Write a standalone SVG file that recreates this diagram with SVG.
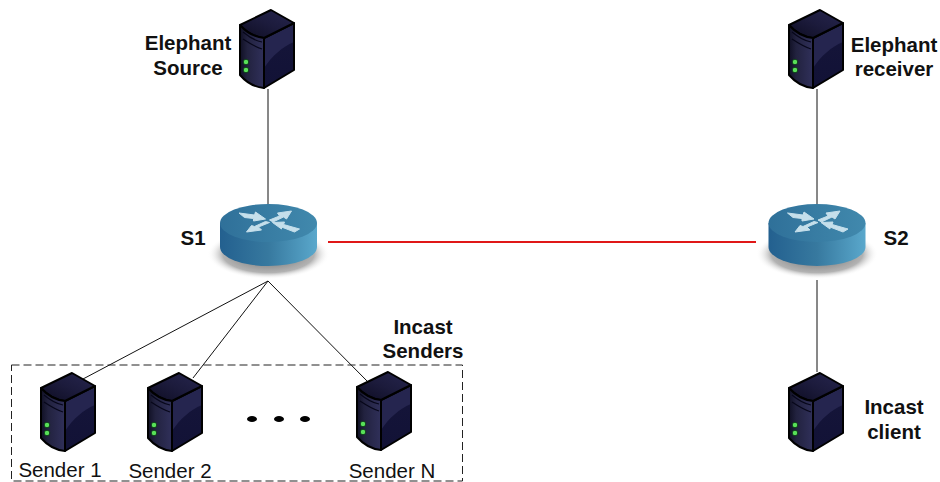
<svg xmlns="http://www.w3.org/2000/svg" width="940" height="482" viewBox="0 0 940 482">
<style>
text{font-family:"Liberation Sans",Arial,sans-serif;fill:#111}
.b{font-size:20.500px;font-weight:bold;text-anchor:middle}
.r{font-size:20.500px;text-anchor:middle}
.l{stroke:#111;stroke-width:1;fill:none}
.o{stroke:#000;stroke-width:2;stroke-linejoin:round}
</style>
<defs>
<linearGradient id="top" x1="0" y1="1" x2="1" y2="0"><stop offset="0" stop-color="#0e0d22"/><stop offset=".5" stop-color="#1c1b3c"/><stop offset="1" stop-color="#26254e"/></linearGradient>
<linearGradient id="front" x1="0" y1="0" x2="1" y2="0"><stop offset="0" stop-color="#101024"/><stop offset=".3" stop-color="#22223f"/><stop offset="1" stop-color="#30305a"/></linearGradient>
<linearGradient id="side" x1="0" y1="0" x2="0" y2="1"><stop offset="0" stop-color="#15153a"/><stop offset="1" stop-color="#121236"/></linearGradient>
<linearGradient id="body" x1="0" y1="0" x2="1" y2="0"><stop offset="0" stop-color="#23608f"/><stop offset=".5" stop-color="#37799f"/><stop offset="1" stop-color="#5aa8cc"/></linearGradient>
<linearGradient id="face" x1="0" y1="0" x2="1" y2="0"><stop offset="0" stop-color="#2f7099"/><stop offset="1" stop-color="#4189ad"/></linearGradient>
<radialGradient id="shadow"><stop offset="0" stop-color="#555"/><stop offset=".75" stop-color="#999" stop-opacity=".75"/><stop offset="1" stop-color="#fff" stop-opacity="0"/></radialGradient>
<symbol id="server" width="56" height="80" viewBox="-1 -1 56 80" overflow="visible">
<path fill="url(#side)" d="M24 28L54 13V60L24 78Z"/>
<path fill="#25254f" d="M24 28L54 13V32C42 37 32 46 24 58Z"/>
<path class="o" fill="none" d="M24 28L54 13V60L24 78Z"/>
<path class="o" fill="url(#top)" d="M0 15L31 0L54 13L24 28C15 27 6 22 0 15Z"/>
<path class="o" fill="url(#front)" d="M0 15C6 22 15 27 24 28V78C14 77 6 72 0 65Z"/>
<path d="M3 22C9 27 16 31 22 32M3 29C9 33 16 37 22 39" fill="none" stroke="#07071a" stroke-width="1.200"/>
<circle cx="6" cy="52" r="2.800" fill="#58e058" stroke="#0d3a1a" stroke-width="1"/>
<circle cx="6" cy="60" r="2.800" fill="#58e058" stroke="#0d3a1a" stroke-width="1"/>
</symbol>
<symbol id="router" width="120" height="80" viewBox="-60 -25 120 80" overflow="visible">
<ellipse cx="0" cy="31" rx="61" ry="25" fill="url(#shadow)"/>
<path fill="url(#body)" d="M-48.500 0V24A48.500 19 0 0 0 48.500 24V0Z"/>
<ellipse cx="0" cy="0" rx="48.500" ry="19" fill="url(#face)"/>
<g fill="#c5dfeb" stroke="#c5dfeb" stroke-width="1" stroke-linejoin="round">
<path d="M-29.500 -10L-14 -8L-13 -11L-3 -4L-15 -2L-15 -4.500L-24 -5.500Z"/>
<path d="M1 -3L11 -7L9 -10L23 -12L18 -4L15 -6L4.500 -1Z"/>
<path d="M1 -0.500L-10 4L-7 7L-22 9L-17 2.500L-14 3.500L-3 -1.500Z"/>
<path d="M31 6L15 1.500L16 -1L4 -0.500L13 6L13 4L26 9Z"/>
</g>
</symbol>
</defs>

<g id="connectors">
<path class="l" d="M268 89V204M817 89V205M817 280V372"/>
<path d="M328 242H756" stroke="#e01818" stroke-width="2" fill="none"/>
<path class="l" d="M268 281L83 379M268 281L193 378M268 281L369 383"/>
</g>

<g id="incast-box"><rect x="11.500" y="365" width="451" height="116" fill="none" stroke="#222" stroke-width="1" stroke-dasharray="8 4"/>
<text class="b" x="423" y="334">Incast</text><text class="b" x="423" y="358">Senders</text></g>

<g id="elephant-source"><use href="#server" x="239" y="9" width="56" height="80"/><text class="b" x="188" y="50">Elephant</text><text class="b" x="188" y="75">Source</text></g>
<g id="elephant-receiver"><use href="#server" x="788" y="9" width="56" height="80"/><text class="b" x="894" y="52">Elephant</text><text class="b" x="894" y="76">receiver</text></g>
<g id="s1"><use href="#router" x="208.500" y="198" width="120" height="80"/><text class="b" x="193" y="245">S1</text></g>
<g id="s2"><use href="#router" x="757" y="198" width="120" height="80"/><text class="b" x="896" y="245">S2</text></g>
<g id="incast-client"><use href="#server" x="788" y="372" width="56" height="80"/><text class="b" x="894" y="414">Incast</text><text class="b" x="894" y="439">client</text></g>
<g id="sender-1"><use href="#server" x="40" y="372" width="56" height="80"/><text class="r" x="60" y="477">Sender 1</text></g>
<g id="sender-2"><use href="#server" x="147" y="372" width="56" height="80"/><text class="r" x="170" y="478">Sender 2</text></g>
<g id="sender-n"><use href="#server" x="356" y="371" width="56" height="80"/><text class="r" x="392" y="478">Sender N</text></g>
<g id="dots" fill="#000"><ellipse cx="252" cy="419" rx="5" ry="3"/><ellipse cx="279" cy="419" rx="5" ry="3"/><ellipse cx="305" cy="419" rx="5" ry="3"/></g>
</svg>
